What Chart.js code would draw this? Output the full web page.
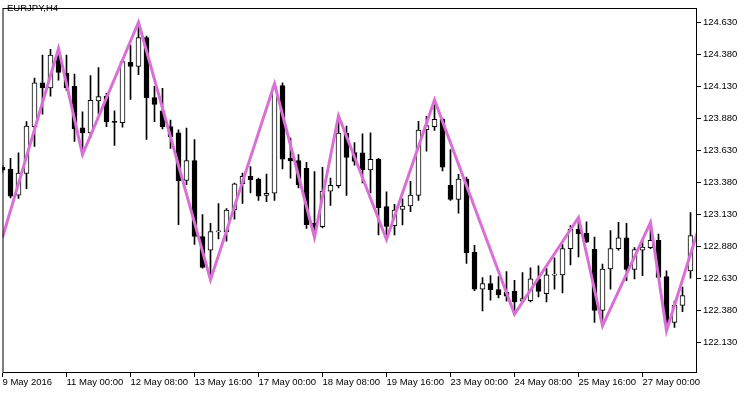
<!DOCTYPE html>
<html><head><meta charset="utf-8">
<script src="https://cdn.jsdelivr.net/npm/chart.js@4/dist/chart.umd.min.js"></script>
<style>html,body{margin:0;padding:0;background:#fff;}#wrap{width:750px;height:394px;}</style>
</head><body><div id="wrap"><canvas id="c" width="750" height="394"></canvas></div>
<script>
const chartTitle = 'EURJPY,H4';
const openP = [123.499,123.484,123.281,123.451,123.817,124.160,124.121,124.378,124.237,124.133,123.807,123.767,124.018,124.056,123.854,123.848,124.321,124.288,124.514,124.044,123.941,123.817,123.769,123.397,123.551,122.957,122.850,122.994,122.996,123.165,123.370,123.428,123.407,123.278,123.296,124.139,123.569,123.551,123.491,123.060,123.034,123.312,123.355,123.767,123.615,123.612,123.478,123.561,123.191,123.042,123.170,123.196,123.278,123.794,123.817,123.874,123.358,123.247,123.407,122.836,122.546,122.588,122.541,122.520,122.528,122.451,122.456,122.626,122.510,122.655,122.657,122.862,123.016,122.983,122.857,122.379,122.703,122.862,122.947,122.700,122.850,122.870,122.927,122.644,122.284,122.418,122.688];
const highP = [123.515,123.569,123.612,123.856,124.198,124.378,124.422,124.429,124.378,124.229,123.933,124.216,124.280,124.077,123.941,124.339,124.455,124.634,124.526,124.133,124.116,123.869,123.792,123.805,123.715,123.129,123.060,123.214,123.176,123.376,123.453,123.505,123.414,123.445,124.152,124.160,123.728,123.599,123.538,123.466,123.499,123.414,123.902,123.821,123.692,123.761,123.769,123.569,123.307,123.209,123.253,123.389,123.859,123.898,124.026,123.882,123.638,123.443,123.422,122.888,122.636,122.651,122.644,122.682,122.615,122.674,122.713,122.728,122.708,122.790,122.896,123.042,123.106,123.073,122.952,122.742,123.004,123.068,123.060,122.870,122.934,123.068,122.977,122.688,122.451,122.561,123.145];
const lowP = [123.461,123.260,123.255,123.332,123.663,123.915,124.056,124.180,124.100,123.702,123.599,123.730,123.915,123.817,123.671,123.813,124.031,124.224,123.717,123.856,123.800,123.646,123.050,123.363,122.896,122.709,122.618,122.939,122.921,123.093,123.216,123.299,123.239,123.229,123.239,123.486,123.414,123.337,123.021,122.952,123.024,123.201,123.337,123.278,123.515,123.376,123.299,122.970,122.934,122.970,123.047,123.152,123.239,123.625,123.787,123.471,123.239,123.139,122.746,122.534,122.374,122.459,122.477,122.451,122.349,122.446,122.446,122.484,122.446,122.546,122.515,122.734,122.798,122.910,122.284,122.258,122.546,122.850,122.611,122.626,122.651,122.862,122.631,122.220,122.245,122.369,122.631];
const closeP = [123.476,123.273,123.453,123.821,124.160,124.121,124.378,124.241,124.121,123.800,123.767,124.023,124.052,123.856,123.850,124.326,124.288,124.514,124.044,123.992,123.817,123.736,123.394,123.551,122.957,122.715,122.996,122.998,123.165,123.370,123.428,123.401,123.273,123.296,124.131,123.563,123.548,123.363,123.050,123.029,123.312,123.358,123.767,123.576,123.545,123.478,123.561,123.183,123.037,123.165,123.196,123.281,123.790,123.825,123.874,123.499,123.247,123.407,122.831,122.546,122.588,122.541,122.501,122.490,122.446,122.472,122.626,122.528,122.657,122.659,122.862,123.016,122.977,122.913,122.379,122.703,122.862,122.947,122.700,122.854,122.875,122.927,122.638,122.284,122.420,122.495,122.965];
const zigzagIndex = [0,7,10,17,26,34,39,42,48,54,64,72,75,81,83,87];
const zigzagValue = [122.949,124.429,123.599,124.634,122.618,124.152,122.952,123.902,122.934,124.026,122.349,123.106,122.258,123.068,122.220,123.018];
const xTickIndex = [0,8,16,24,32,40,48,56,64,72,80];
const xTickLabels = ['9 May 2016','11 May 00:00','12 May 08:00','13 May 16:00','17 May 00:00','18 May 08:00','19 May 16:00','23 May 00:00','24 May 08:00','25 May 16:00','27 May 00:00'];
const yTickValues = [122.130,122.380,122.630,122.880,123.130,123.380,123.630,123.880,124.130,124.380,124.630];
const yMin = 121.889, yMax = 124.748;

const FONT = {family: "'Liberation Sans', Arial, sans-serif", size: 9.5};
const bull = closeP.map((c, i) => c >= openP[i]);

const framePlugin = {
  id: 'frame',
  afterDraw(chart) {
    const {ctx, chartArea: a} = chart;
    ctx.save();
    ctx.strokeStyle = '#000';
    ctx.lineWidth = 1;
    ctx.strokeRect(Math.round(a.left) - 0.5 + 0.5, Math.round(a.top) + 0.5, Math.round(a.right) - Math.round(a.left) - 0.5, Math.round(a.bottom) - Math.round(a.top) - 1);
    ctx.fillStyle = '#000';
    ctx.font = FONT.size + 'px ' + FONT.family;
    ctx.textBaseline = 'top';
    ctx.textAlign = 'left';
    ctx.fillText(chartTitle, 7, 4);
    ctx.restore();
  }
};

new Chart(document.getElementById('c'), {
  type: 'bar',
  data: {
    datasets: [
      {
        type: 'line', label: 'ZigZag', order: 0, clip: 0,
        data: zigzagIndex.map((x, i) => ({x, y: zigzagValue[i]})),
        borderColor: '#DA70D6', borderWidth: 3, pointRadius: 0, tension: 0, fill: false
      },
      {
        label: 'body', order: 1, grouped: false, clip: 0,
        data: openP.map((o, i) => ({x: i, y: [o, closeP[i]]})),
        backgroundColor: bull.map(b => b ? '#fff' : '#000'),
        borderColor: '#000', borderWidth: 1, borderSkipped: false,
        barThickness: 5, minBarLength: 1
      },
      {
        label: 'wick', order: 2, grouped: false, clip: 0,
        data: lowP.map((l, i) => ({x: i, y: [l, highP[i]]})),
        backgroundColor: '#000', borderWidth: 0, barThickness: 1
      }
    ]
  },
  options: {
    responsive: false, animation: false, devicePixelRatio: 1,
    layout: {padding: {left: 2.5, top: 2, right: 0, bottom: 0}},
    plugins: {legend: {display: false}, tooltip: {enabled: false}},
    scales: {
      x: {
        type: 'linear', offset: false, min: 0, max: 694.5 / 8,
        grid: {display: true, drawOnChartArea: false, drawTicks: true, tickLength: 4, color: '#000', offset: false},
        border: {display: false},
        afterBuildTicks: s => { s.ticks = xTickIndex.map(v => ({value: v})); },
        afterFit: s => { s.height = 21; },
        ticks: {
          autoSkip: false, maxRotation: 0, minRotation: 0, align: 'start', padding: 0,
          color: '#000', font: FONT,
          callback: v => { const i = xTickIndex.indexOf(v); return i >= 0 ? xTickLabels[i] : ''; }
        }
      },
      y: {
        type: 'linear', position: 'right', min: yMin, max: yMax,
        grid: {display: true, drawOnChartArea: false, drawTicks: true, tickLength: 4, color: '#000'},
        border: {display: false},
        afterBuildTicks: s => { s.ticks = yTickValues.map(v => ({value: v})); },
        afterFit: s => { s.width = 53; },
        ticks: {padding: 2, color: '#000', font: FONT, callback: v => Number(v).toFixed(3)}
      }
    }
  },
  plugins: [framePlugin]
});
</script>
</body></html>
